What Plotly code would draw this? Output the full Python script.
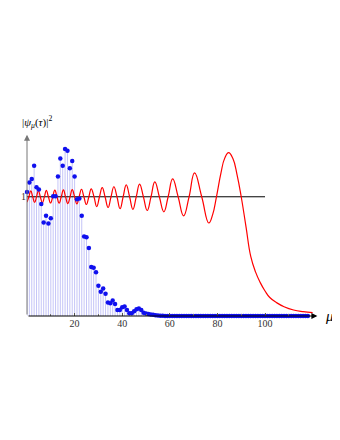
import plotly.graph_objects as go

# Blue probability points |psi_mu(tau)|^2 at integer mu
mu_pts = list(range(0, 119))
psi_vals = [
    1.04, 1.12, 1.15, 1.26, 1.08, 1.06, 0.94, 0.785, 0.84, 0.775,
    0.82, 1.005, 1.005, 1.17, 1.32, 1.26, 1.40, 1.385, 1.24, 1.30,
    1.17, 0.98, 0.985, 0.84, 0.667, 0.66, 0.57, 0.41, 0.405, 0.367,
    0.254, 0.203, 0.23, 0.186, 0.113, 0.107, 0.13, 0.10, 0.05, 0.05,
    0.073, 0.079, 0.05, 0.023, 0.023, 0.04, 0.056, 0.062, 0.05, 0.028,
    0.02, 0.016, 0.013, 0.01, 0.007, 0.005, 0.003, 0.002, 0.001, 0.0,
    0.0, 0.0, 0.0, 0.0, 0.0, 0.0, 0.0, 0.0, 0.0, 0.0,
    0.0, 0.0, 0.0, 0.0, 0.0, 0.0, 0.0, 0.0, 0.0, 0.0,
    0.0, 0.0, 0.0, 0.0, 0.0, 0.0, 0.0, 0.0, 0.0, 0.0,
    0.0, 0.0, 0.0, 0.0, 0.0, 0.0, 0.0, 0.0, 0.0, 0.0,
    0.0, 0.0, 0.0, 0.0, 0.0, 0.0, 0.0, 0.0, 0.0, 0.0,
    0.0, 0.0, 0.0, 0.0, 0.0, 0.0, 0.0, 0.0, 0.0,
]

# Red curve: key points (extrema, crossings, tail)
red_mu = [
    0.0, 0.8, 1.6, 2.4, 3.2, 4.0, 4.8, 5.6, 6.45, 7.3,
    8.1, 9.0, 9.9, 10.8, 11.7, 12.6, 13.5, 14.4, 15.3, 16.2,
    17.15, 18.1, 19.0, 20.0, 20.95, 21.9, 22.9, 23.9, 24.95, 26.0,
    27.0, 28.15, 29.3, 30.45, 31.6, 32.8, 34.05, 35.3, 36.5, 37.8,
    39.1, 40.4, 41.7, 43.1, 44.5, 45.9, 47.3, 48.9, 50.5, 52.1,
    53.7, 55.6, 57.5, 59.3, 61.2, 63.5, 65.8, 68.1, 70.4, 73.4,
    76.4, 78.0, 79.6, 81.5, 83.0, 84.7, 86.5, 88.3, 90.0, 92.0,
    94.0, 96.0, 98.0, 100.0, 102.0, 105.0, 108.0, 112.0, 116.0, 120.0,
]
red_val = [
    0.955, 1.0, 1.05, 1.0, 0.952, 1.0, 1.052, 1.0, 0.95, 1.0,
    1.053, 1.0, 0.948, 1.0, 1.055, 1.0, 0.946, 1.0, 1.057, 1.0,
    0.943, 1.0, 1.06, 1.0, 0.94, 1.0, 1.063, 1.0, 0.935, 1.0,
    1.067, 1.0, 0.918, 1.0, 1.077, 1.0, 0.91, 1.0, 1.084, 1.0,
    0.90, 1.0, 1.10, 1.0, 0.894, 1.0, 1.106, 1.0, 0.885, 1.0,
    1.125, 1.0, 0.874, 1.0, 1.15, 1.0, 0.84, 1.0, 1.20, 1.0,
    0.78, 0.85, 1.0, 1.20, 1.32, 1.37, 1.32, 1.18, 1.0, 0.75,
    0.50, 0.37, 0.28, 0.21, 0.155, 0.11, 0.078, 0.05, 0.036, 0.028,
]

ref_mu = [0, 100]
ref_val = [1, 1]

x_ticks = [20, 40, 60, 80, 100]
x_minor = [10, 30, 50, 70, 90, 110]
y_ticks = [1]

fig = go.Figure()

# stems
stem_x, stem_y = [], []
for m, v in zip(mu_pts, psi_vals):
    stem_x += [m, m, None]
    stem_y += [0, v, None]
fig.add_trace(go.Scatter(x=stem_x, y=stem_y, mode="lines",
                         line=dict(color="rgba(150,150,240,0.55)", width=1),
                         hoverinfo="skip", cliponaxis=False))

fig.add_trace(go.Scatter(x=ref_mu, y=ref_val, mode="lines",
                         line=dict(color="black", width=1), cliponaxis=False))

fig.add_trace(go.Scatter(x=red_mu, y=red_val, mode="lines",
                         line=dict(color="#ff0000", width=1.2, shape="spline", smoothing=1.3),
                         cliponaxis=False))

fig.add_trace(go.Scatter(x=mu_pts, y=psi_vals, mode="markers",
                         marker=dict(color="#1010ee", size=4.5),
                         cliponaxis=False))

# axes with arrows
fig.add_annotation(x=122, y=0, ax=0, ay=0, xref="x", yref="y", axref="x", ayref="y",
                   text="", showarrow=True, arrowhead=2, arrowsize=1.2,
                   arrowwidth=1, arrowcolor="black")
fig.add_annotation(x=0, y=1.52, ax=0, ay=0, xref="x", yref="y", axref="x", ayref="y",
                   text="", showarrow=True, arrowhead=2, arrowsize=1.2,
                   arrowwidth=1, arrowcolor="#777777")

fig.add_annotation(x=1.01, y=0, xref="paper", yref="y", xanchor="left", yanchor="middle",
                   text="<i>μ</i>", showarrow=False,
                   font=dict(family="Liberation Serif", size=15, color="black"))
fig.add_annotation(x=-0.024, y=1.043, xref="paper", yref="paper", xanchor="left", yanchor="middle",
                   text="|<i>ψ</i><sub><i>μ</i></sub>(<i>τ</i>)|<sup>2</sup>", showarrow=False,
                   font=dict(family="Liberation Serif", size=11, color="black"))

fig.update_layout(
    width=340, height=440,
    margin=dict(l=19, r=28, t=122, b=132),
    paper_bgcolor="white", plot_bgcolor="white",
    showlegend=False,
    font=dict(family="Liberation Serif", size=10, color="#333333"),
    xaxis=dict(range=[0, 123.1], showgrid=False, zeroline=False, showline=False,
               tickvals=x_ticks, ticks="inside", ticklen=3, tickcolor="#555555",
               minor=dict(tickvals=x_minor, ticks="inside", ticklen=2,
                          tickcolor="#777777")),
    yaxis=dict(range=[0, 1.56], showgrid=False, zeroline=False, showline=False,
               tickvals=y_ticks, ticktext=["1"], ticks=""),
)

fig.write_html("out.html")
